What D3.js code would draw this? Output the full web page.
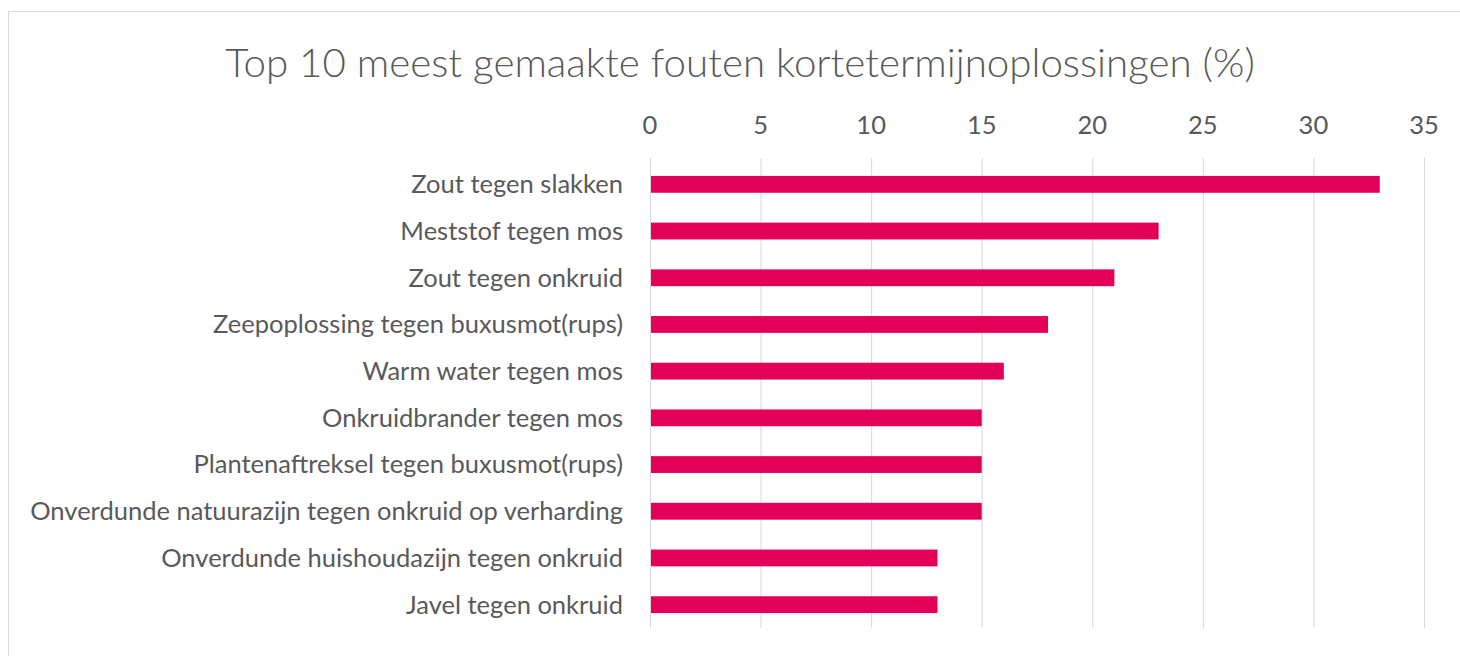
<!DOCTYPE html>
<html>
<head>
<meta charset="utf-8">
<script src="https://cdn.jsdelivr.net/npm/d3@7"></script>
<style>
  html, body { margin: 0; padding: 0; background: #fff; }
  svg { display: block; }
  text { font-family: Lato, "Open Sans", sans-serif; fill: #595959; }
</style>
</head>
<body>
<svg id="chart" width="1460" height="656"></svg>
<script>
const title = "Top 10 meest gemaakte fouten kortetermijnoplossingen (%)";
const categories = [
  "Zout tegen slakken",
  "Meststof tegen mos",
  "Zout tegen onkruid",
  "Zeepoplossing tegen buxusmot(rups)",
  "Warm water tegen mos",
  "Onkruidbrander tegen mos",
  "Plantenaftreksel tegen buxusmot(rups)",
  "Onverdunde natuurazijn tegen onkruid op verharding",
  "Onverdunde huishoudazijn tegen onkruid",
  "Javel tegen onkruid"
];
const values = [33, 23, 21, 18, 16, 15, 15, 15, 13, 13];
const tickValues = [0, 5, 10, 15, 20, 25, 30, 35];

const svg = d3.select("#chart");
const W = 1460, H = 656;

// frame
svg.append("rect")
  .attr("x", 8.5).attr("y", 11.5)
  .attr("width", W).attr("height", H)
  .attr("fill", "none").attr("stroke", "#d9d9d9").attr("stroke-width", 1);

const x = d3.scaleLinear().domain([0, 35]).range([650, 1424]);
const y = d3.scaleBand().domain(categories).range([161, 628]).paddingInner(0.64).paddingOuter(0.32);

// gridlines
svg.append("g").selectAll("line").data(tickValues).join("line")
  .attr("x1", d => x(d) + 0.5).attr("x2", d => x(d) + 0.5)
  .attr("y1", 158).attr("y2", 628)
  .attr("stroke", "#d9d9d9").attr("stroke-width", 1);

// bars
svg.append("g").selectAll("rect").data(values).join("rect")
  .attr("x", x(0) + 1)
  .attr("y", (d, i) => y(categories[i]))
  .attr("width", d => x(d) - x(0) - 1)
  .attr("height", y.bandwidth())
  .attr("fill", "#e40059");

// fit helper
function fit(sel, target, start) {
  let fs = start;
  sel.style("font-size", fs + "px");
  const w = sel.node().getComputedTextLength();
  fs = fs * target / w;
  sel.style("font-size", fs + "px");
  return fs;
}

// category labels
const labels = svg.append("g").selectAll("text").data(categories).join("text")
  .attr("x", 623)
  .attr("y", d => y(d) + y.bandwidth() / 2)
  .attr("dy", "0.35em")
  .attr("text-anchor", "end")
  .text(d => d);
const longest = labels.filter(d => d === categories[7]);
const fsLab = fit(longest, 593, 20);
labels.style("font-size", fsLab + "px");

// ticks
svg.append("g").selectAll("text").data(tickValues).join("text")
  .attr("x", d => x(d))
  .attr("y", 134)
  .attr("text-anchor", "middle")
  .style("font-size", fsLab + "px")
  .text(d => d);

// title
const t = svg.append("text")
  .attr("x", 740).attr("y", 77)
  .attr("text-anchor", "middle")
  .style("font-weight", 300)
  .text(title);
fit(t, 1030, 36);
</script>
</body>
</html>
